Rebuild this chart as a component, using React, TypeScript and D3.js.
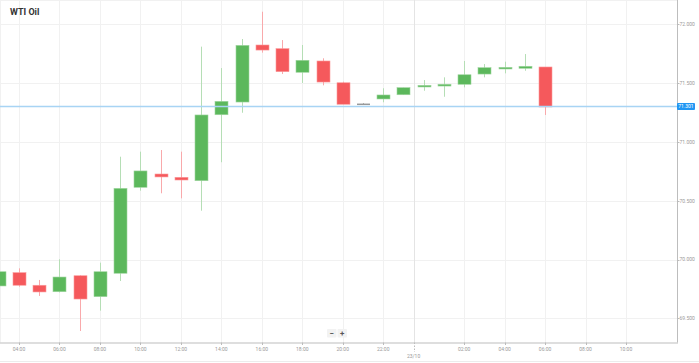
import { useEffect, useRef } from 'react'
import * as d3 from 'd3'

// hourly candles, 22/10 03:00 -> 23/10 06:00
const hours = [
  '03:00', '04:00', '05:00', '06:00', '07:00', '08:00', '09:00', '10:00', '11:00', '12:00',
  '13:00', '14:00', '15:00', '16:00', '17:00', '18:00', '19:00', '20:00', '21:00', '22:00',
  '23:00', '00:00', '01:00', '02:00', '03:00', '04:00', '05:00', '06:00',
]
const open = [
  69.775, 69.888, 69.781, 69.726, 69.862, 69.684, 69.883, 70.614, 70.727, 70.699,
  70.67, 71.231, 71.339, 71.824, 71.793, 71.592, 71.688, 71.503, 71.326, 71.365,
  71.401, 71.467, 71.475, 71.49, 71.577, 71.62, 71.626, 71.637,
]
const close = [
  69.896, 69.781, 69.724, 69.851, 69.664, 69.896, 70.605, 70.753, 70.702, 70.676,
  71.229, 71.345, 71.821, 71.781, 71.597, 71.694, 71.509, 71.32, 71.326, 71.399,
  71.461, 71.481, 71.49, 71.571, 71.631, 71.634, 71.643, 71.297,
]
const high = [
  69.92, 69.925, 69.826, 70.002, 69.866, 69.973, 70.874, 70.917, 70.931, 70.917,
  71.81, 71.628, 71.875, 72.107, 71.866, 71.824, 71.711, 71.512, 71.33, 71.456,
  71.461, 71.526, 71.549, 71.688, 71.662, 71.682, 71.747, 71.637,
]
const low = [
  69.76, 69.769, 69.69, 69.72, 69.392, 69.565, 69.817, 70.585, 70.563, 70.52,
  70.415, 70.827, 71.248, 71.759, 71.577, 71.501, 71.481, 71.32, 71.322, 71.337,
  71.401, 71.435, 71.384, 71.464, 71.549, 71.583, 71.605, 71.229,
]
const yTicks = [69.5, 70, 70.5, 71, 71.5, 72]
// x tick positions in hours from 22/10 04:00
const xTickHours = [0, 2, 4, 6, 8, 10, 12, 14, 16, 18, 22, 24, 26, 28, 30]
const xTickLabels = ['04:00', '06:00', '08:00', '10:00', '12:00', '14:00', '16:00', '18:00', '20:00', '22:00', '02:00', '04:00', '06:00', '08:00', '10:00']
const dayBreak = 19.5
const dayLabel = '23/10'
const lastPrice = 71.301
const title = 'WTI Oil'

const W = 699
const H = 363

function App() {
  const ref = useRef<SVGSVGElement | null>(null)

  useEffect(() => {
    const svg = d3.select(ref.current)
    svg.selectAll('*').remove()

    const plotR = 677
    const plotB = 342.5
    const font = 'Roboto, "Noto Sans", sans-serif'

    const x = d3.scaleLinear().domain([-0.94, 32.52]).range([0, plotR])
    const y = d3.scaleLinear().domain([69.5, 72]).range([318.3, 24.3])

    svg.append('rect').attr('width', W).attr('height', H).attr('fill', '#fff')

    // grid
    const grid = svg.append('g').attr('stroke', '#f1f1f1').attr('stroke-width', 1)
    grid.append('line').attr('x1', 0).attr('x2', plotR).attr('y1', 0.5).attr('y2', 0.5)
    grid.append('line').attr('x1', 0.5).attr('x2', 0.5).attr('y1', 0).attr('y2', plotB)
    yTicks.forEach((v) => {
      grid.append('line').attr('x1', 0).attr('x2', plotR)
        .attr('y1', Math.round(y(v)) + 0.5).attr('y2', Math.round(y(v)) + 0.5)
    })
    xTickHours.forEach((h) => {
      grid.append('line').attr('y1', 0).attr('y2', plotB)
        .attr('x1', Math.round(x(h)) + 0.5).attr('x2', Math.round(x(h)) + 0.5)
    })
    const dbx = Math.round(x(dayBreak)) + 0.5
    svg.append('line').attr('x1', dbx).attr('x2', dbx).attr('y1', 0).attr('y2', plotB)
      .attr('stroke', '#e4e4e4')
    svg.append('line').attr('x1', dbx).attr('x2', dbx).attr('y1', plotB).attr('y2', 352)
      .attr('stroke', '#bbb').attr('stroke-dasharray', '1.5,1.5')

    // candles
    const bw = 13
    const candles = svg.append('g')
    hours.forEach((_, i) => {
      const t = i - 1
      const cx = x(t)
      const o = open[i]
      const c = close[i]
      const up = c > o
      const flat = c === o
      const body = flat ? '#999' : up ? '#5cb85c' : '#f5595c'
      const wick = flat ? '#aaa' : up ? '#b5deb5' : '#f9a9ab'
      candles.append('line')
        .attr('x1', Math.round(cx) + 0.5).attr('x2', Math.round(cx) + 0.5)
        .attr('y1', y(high[i])).attr('y2', y(low[i]))
        .attr('stroke', wick).attr('stroke-width', 1)
      const top = y(Math.max(o, c))
      const h = Math.max(1.5, y(Math.min(o, c)) - top)
      candles.append('rect')
        .attr('x', Math.round(cx) - bw / 2 + 0.5).attr('width', bw)
        .attr('y', top).attr('height', h)
        .attr('fill', body)
        .attr('stroke', flat ? 'none' : up ? '#9fd59f' : '#fb9a9c')
        .attr('stroke-width', 0.6)
    })

    // last price line
    const py = y(lastPrice)
    svg.append('line').attr('x1', 0).attr('x2', plotR).attr('y1', py).attr('y2', py)
      .attr('stroke', '#a8d4f4').attr('stroke-width', 1.3)

    // borders / axes
    svg.append('line').attr('x1', plotR + 0.5).attr('x2', plotR + 0.5).attr('y1', 0).attr('y2', plotB)
      .attr('stroke', '#bdbdbd')
    svg.append('line').attr('x1', 0).attr('x2', plotR + 1).attr('y1', plotB + 0.5).attr('y2', plotB + 0.5)
      .attr('stroke', '#bdbdbd').attr('stroke-width', 1.2)
    svg.append('line').attr('x1', 0).attr('x2', W).attr('y1', 361.5).attr('y2', 361.5)
      .attr('stroke', '#ececec')

    // y labels
    const yl = svg.append('g').attr('font-family', font).attr('font-size', 5).attr('fill', '#9a9a9a')
    yTicks.forEach((v) => {
      svg.append('line').attr('x1', plotR).attr('x2', plotR + 2.5)
        .attr('y1', Math.round(y(v)) + 0.5).attr('y2', Math.round(y(v)) + 0.5).attr('stroke', '#bbb')
      yl.append('text').attr('x', plotR + 2.5).attr('y', y(v) + 1.8).text(d3.format('.3f')(v))
    })
    svg.append('rect').attr('x', plotR).attr('y', py - 3.6).attr('width', 18).attr('height', 7)
      .attr('rx', 1).attr('fill', '#2196f3')
    svg.append('text').attr('x', plotR + 9).attr('y', py + 1.8).attr('text-anchor', 'middle')
      .attr('font-family', font).attr('font-size', 5).attr('fill', '#fff')
      .text(d3.format('.3f')(lastPrice))

    // x labels
    const xl = svg.append('g').attr('font-family', font).attr('font-size', 5).attr('fill', '#9a9a9a')
      .attr('text-anchor', 'middle')
    xTickHours.forEach((h, i) => {
      const tx = Math.round(x(h)) + 0.5
      svg.append('line').attr('x1', tx).attr('x2', tx).attr('y1', plotB).attr('y2', plotB + 2.5)
        .attr('stroke', '#bbb')
      xl.append('text').attr('x', x(h)).attr('y', 350.5).text(xTickLabels[i])
    })
    xl.append('text').attr('x', x(dayBreak)).attr('y', 357.5).text(dayLabel)

    // zoom buttons
    const zb = svg.append('g')
    ;['−', '+'].forEach((s, i) => {
      const bx = 327 + i * 10.5
      zb.append('rect').attr('x', bx).attr('y', 329).attr('width', 9.5).attr('height', 8.5)
        .attr('rx', 1).attr('fill', '#f2f2f2')
      zb.append('text').attr('x', bx + 4.75).attr('y', 336).attr('text-anchor', 'middle')
        .attr('font-family', font).attr('font-size', 8).attr('font-weight', 'bold')
        .attr('fill', '#555').text(s)
    })

    // title
    svg.append('text').attr('x', 10).attr('y', 14.7)
      .attr('font-family', font).attr('font-size', 9).attr('font-weight', 'bold')
      .attr('fill', '#333').text(title)
  }, [])

  return (
    <div style={{ position: 'absolute', left: 0, top: 0 }}>
      <svg ref={ref} width={W} height={H} style={{ display: 'block' }} />
    </div>
  )
}

export default App
